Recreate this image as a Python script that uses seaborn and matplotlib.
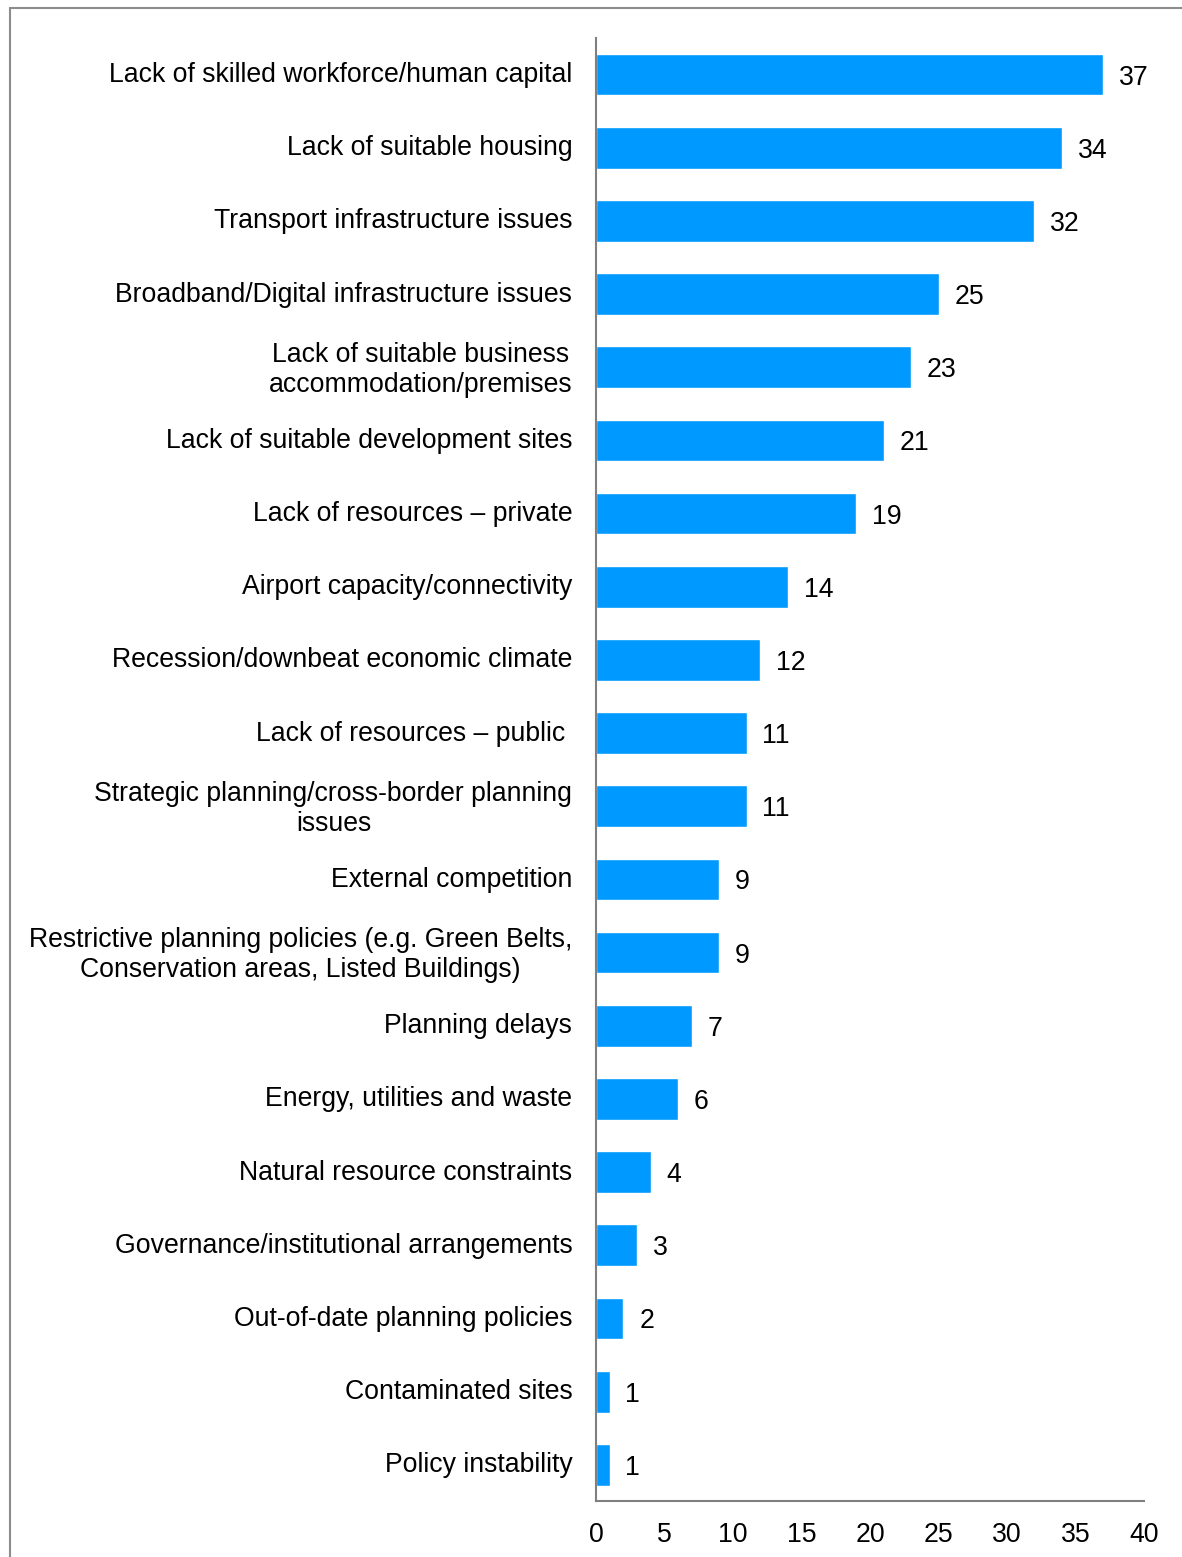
import matplotlib
matplotlib.use("Agg")
import matplotlib.pyplot as plt
import matplotlib.transforms as mtransforms
from matplotlib.lines import Line2D
import seaborn as sns
import pandas as pd

categories = [
    "Lack of skilled workforce/human capital",
    "Lack of suitable housing",
    "Transport infrastructure issues",
    "Broadband/Digital infrastructure issues",
    "Lack of suitable business\naccommodation/premises",
    "Lack of suitable development sites",
    "Lack of resources \u2013 private",
    "Airport capacity/connectivity",
    "Recession/downbeat economic climate",
    "Lack of resources \u2013 public ",
    "Strategic planning/cross-border planning\nissues",
    "External competition",
    "Restrictive planning policies (e.g. Green Belts,\nConservation areas, Listed Buildings)",
    "Planning delays",
    "Energy, utilities and waste",
    "Natural resource constraints",
    "Governance/institutional arrangements",
    "Out-of-date planning policies",
    "Contaminated sites",
    "Policy instability",
]
values = [37, 34, 32, 25, 23, 21, 19, 14, 12, 11, 11, 9, 9, 7, 6, 4, 3, 2, 1, 1]
x_ticks = [0, 5, 10, 15, 20, 25, 30, 35, 40]

sns.set_theme(style="white")
plt.rcParams["font.family"] = ["Liberation Sans", "DejaVu Sans"]
plt.rcParams["text.color"] = "black"
plt.rcParams["xtick.color"] = "black"
plt.rcParams["ytick.color"] = "black"

FS = 19.2

df = pd.DataFrame({"category": categories, "value": values})

fig = plt.figure(figsize=(11.82, 15.57), dpi=100)
ax = fig.add_axes([0.5042, 0.0357, 0.4637, 0.9399])

sns.barplot(data=df, x="value", y="category", orient="h", color="#0099FF",
            saturation=1, width=0.57, ax=ax)

ax.set_xlim(0, 40)
ax.set_ylim(len(categories) - 0.5, -0.5)
ax.set_xticks(x_ticks)
ax.set_xticklabels([str(t) for t in x_ticks], fontsize=FS)
ax.set_xlabel("")
ax.set_ylabel("")
ax.tick_params(axis="both", length=0)
ax.tick_params(axis="x", pad=15)
ax.tick_params(axis="y", pad=17)

# nudge category labels slightly upward
nudge = mtransforms.ScaledTranslation(0, 2.5 / 100, fig.dpi_scale_trans)
for lab in ax.get_yticklabels():
    lab.set_fontsize(FS)
    lab.set_multialignment("center")
    lab.set_color("black")
    lab.set_transform(lab.get_transform() + nudge)

for side in ("top", "right"):
    ax.spines[side].set_visible(False)
for side in ("left", "bottom"):
    ax.spines[side].set_color("#808080")
    ax.spines[side].set_linewidth(1.5)

for i, v in enumerate(values):
    ax.text(v + 1.15, i, str(v), va="center_baseline", ha="left", fontsize=FS, color="black")

# chart frame (top and left edges)
fig.add_artist(Line2D([10 / 1182, 10 / 1182], [0, 1 - 8 / 1557], transform=fig.transFigure,
                      color="#8c8c8c", lw=1.5))
fig.add_artist(Line2D([10 / 1182, 1], [1 - 8 / 1557, 1 - 8 / 1557], transform=fig.transFigure,
                      color="#8c8c8c", lw=1.5))

fig.savefig("out.png", dpi=100)
